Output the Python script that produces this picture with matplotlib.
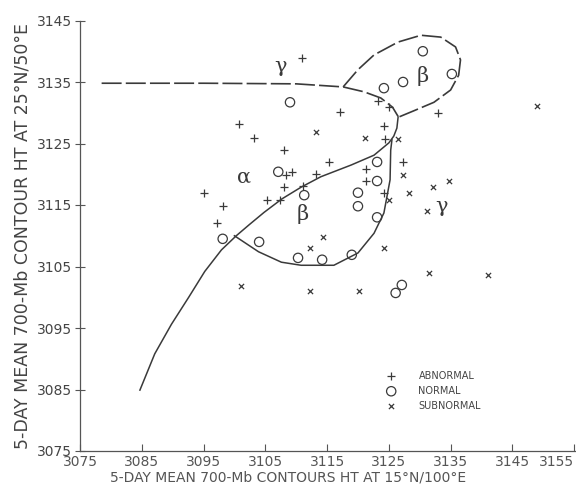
import matplotlib
matplotlib.use("Agg")
import matplotlib.pyplot as plt

# ---- data ----
abn_x = [3111.0, 3100.8, 3103.2, 3108.1, 3108.4, 3109.4, 3108.1, 3111.1, 3095.0, 3098.1,
         3097.1, 3105.2, 3107.3, 3117.1, 3123.2, 3125.0, 3124.2, 3124.4, 3115.3, 3113.2,
         3121.3, 3121.3, 3127.3, 3124.2, 3132.9]
abn_y = [3138.9, 3128.2, 3125.9, 3123.9, 3119.9, 3120.4, 3117.9, 3118.1, 3117.0, 3114.8,
         3112.1, 3115.8, 3115.8, 3130.1, 3131.9, 3130.9, 3127.8, 3125.7, 3122.0, 3120.0,
         3120.9, 3118.9, 3122.0, 3117.0, 3130.0]

nor_x = [3109.0, 3107.1, 3124.2, 3127.3, 3130.5, 3135.2, 3123.1, 3123.1, 3120.0, 3120.0,
         3123.1, 3111.3, 3098.1, 3104.0, 3110.3, 3114.2, 3119.0, 3127.1, 3126.1]
nor_y = [3131.7, 3120.4, 3134.0, 3135.0, 3140.0, 3136.3, 3122.0, 3118.9, 3117.0, 3114.8,
         3113.0, 3116.6, 3109.5, 3109.0, 3106.4, 3106.1, 3106.9, 3102.0, 3100.7]

sub_x = [3113.2, 3121.1, 3126.5, 3127.3, 3125.0, 3128.2, 3132.1, 3134.8, 3131.1, 3114.4,
         3112.3, 3124.2, 3101.1, 3112.3, 3120.2, 3131.5, 3141.1, 3149.0]
sub_y = [3126.9, 3125.9, 3125.7, 3119.9, 3115.8, 3117.0, 3117.9, 3118.9, 3114.0, 3109.8,
         3108.0, 3108.0, 3101.8, 3101.0, 3101.0, 3103.9, 3103.6, 3131.1]

# boundary curves
upper_x = [3078.5, 3095.0, 3110.0, 3117.6, 3121.0, 3123.7, 3125.6, 3126.5]
upper_y = [3134.8, 3134.8, 3134.7, 3134.2, 3133.4, 3132.4, 3130.9, 3129.4]

loop_x = [3117.6, 3120.0, 3122.6, 3126.5, 3130.2, 3133.4, 3135.8, 3136.6, 3136.3, 3135.0,
          3132.3, 3129.0, 3126.6]
loop_y = [3134.2, 3137.0, 3139.4, 3141.5, 3142.6, 3142.3, 3140.7, 3138.6, 3136.1, 3133.7,
          3131.7, 3130.3, 3129.3]

main_x = [3126.5, 3126.3, 3125.8, 3125.0, 3122.6, 3118.9, 3114.0, 3110.8, 3107.7, 3104.8,
          3102.4, 3100.3, 3097.9, 3095.2, 3092.6, 3089.8, 3087.1, 3084.7]
main_y = [3129.3, 3127.5, 3126.2, 3125.1, 3123.1, 3121.5, 3119.6, 3117.9, 3116.0, 3113.8,
          3111.8, 3110.0, 3107.7, 3104.2, 3100.0, 3095.6, 3090.8, 3084.9]

beta_x = [3100.0, 3103.9, 3107.6, 3110.8, 3116.1, 3120.0, 3122.6, 3124.2, 3125.2, 3125.3, 3125.5]
beta_y = [3110.0, 3107.4, 3105.7, 3105.2, 3105.2, 3107.2, 3110.4, 3113.7, 3119.1, 3123.9, 3125.6]

region_labels = ["γ", "β", "α", "β", "γ"]
region_x = [3107.5, 3130.5, 3101.5, 3111.0, 3133.5]
region_y = [3137.6, 3136.0, 3119.5, 3113.5, 3114.8]

xticks = [3075, 3085, 3095, 3105, 3115, 3125, 3135, 3145, 3155]
yticks = [3075, 3085, 3095, 3105, 3115, 3125, 3135, 3145]

ink = "#3a3a3a"

fig = plt.figure(figsize=(5.76, 4.88), dpi=100)
ax = fig.add_axes([80/576, 37/488, 496/576, 430.5/488])
ax.set_xlim(3075, 3155.3)
ax.set_ylim(3075, 3145)

for s in ["top", "right"]:
    ax.spines[s].set_visible(False)
for s in ["left", "bottom"]:
    ax.spines[s].set_color("#555555")
    ax.spines[s].set_linewidth(0.9)

ax.set_xticks(xticks)
ax.set_yticks(yticks)
ax.tick_params(axis="x", direction="in", length=5, color="#555555", labelsize=10,
               labelcolor="#555555", pad=3)
ax.tick_params(axis="y", direction="inout", length=7, color="#555555", labelsize=10,
               labelcolor="#444444", pad=2)
xlabels = ax.get_xticklabels()
xlabels[-1].set_horizontalalignment("right")

# curves
ax.plot(upper_x, upper_y, color=ink, lw=1.2, dashes=(12, 2.5))
ax.plot(loop_x, loop_y, color=ink, lw=1.2, dashes=(12, 2.5))
ax.plot(main_x, main_y, color=ink, lw=1.1)
ax.plot(beta_x, beta_y, color=ink, lw=1.1)

# points
ax.scatter(abn_x, abn_y, marker="+", s=30, color=ink, linewidths=0.9, label="ABNORMAL")
ax.scatter(nor_x, nor_y, marker="o", s=45, facecolors="none", edgecolors=ink,
           linewidths=0.9, label="NORMAL")
ax.scatter(sub_x, sub_y, marker="x", s=14, color=ink, linewidths=0.9, label="SUBNORMAL")

for t, x, y in zip(region_labels, region_x, region_y):
    ax.text(x, y, t, fontsize=15, color=ink, ha="center", va="center", family="DejaVu Serif")

leg = ax.legend(loc="upper left", bbox_to_anchor=(0.60, 0.195), frameon=False,
                fontsize=7, handletextpad=1.8, labelspacing=0.5, borderaxespad=0,
                labelcolor="#444444")

ax.set_xlabel("5-DAY MEAN 700-Mb CONTOURS HT AT 15°N/100°E", fontsize=10,
              color="#555555", labelpad=1)
ax.xaxis.set_label_coords(0.42, -0.045)
ax.set_ylabel("5-DAY MEAN 700-Mb CONTOUR HT AT 25°N/50°E", fontsize=12.5,
              color="#444444", labelpad=4)

fig.savefig("out.png", dpi=100)
